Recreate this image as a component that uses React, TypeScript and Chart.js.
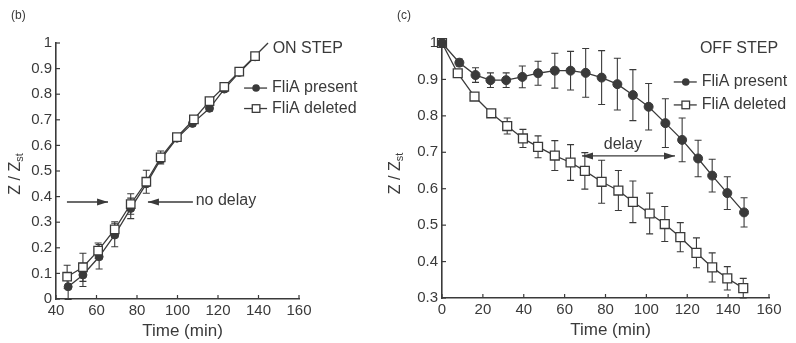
import React, { useEffect, useRef } from "react";
import { Chart, registerables } from "chart.js";

Chart.register(...registerables);

// ---------- Panel (b): ON STEP ----------
const onXTicks = [40, 60, 80, 100, 120, 140, 160];
const onYTicks = [0, 0.1, 0.2, 0.3, 0.4, 0.5, 0.6, 0.7, 0.8, 0.9, 1];

const onDeletedTime = [45.5, 53.3, 60.8, 69, 76.9, 84.6, 91.7, 99.7, 108.1, 115.8, 123.1, 130.5, 138.3];
const onDeletedZ = [0.087, 0.124, 0.189, 0.272, 0.371, 0.458, 0.553, 0.632, 0.702, 0.773, 0.829, 0.888, 0.949];
const onDeletedErr = [0.045, 0.055, 0.03, 0.03, 0.04, 0.045, 0.025, 0.01, 0.01, 0.01, 0.01, 0.01, 0.01];

const onPresentTime = [46, 53.3, 61.3, 69, 76.9, 84.6, 91.7, 99.7, 107.4, 115.8, 123.1, 130.5, 138.3];
const onPresentZ = [0.048, 0.094, 0.165, 0.25, 0.354, 0.45, 0.545, 0.628, 0.686, 0.745, 0.82, 0.885, 0.946];
const onPresentErr = [0.05, 0.045, 0.048, 0.046, 0.04, 0.01, 0.01, 0.01, 0.01, 0.01, 0.01, 0.01, 0.01];

const onLeadTime = [138.3, 144.7];
const onLeadZ = [0.949, 1.0];

// ---------- Panel (c): OFF STEP ----------
const offXTicks = [0, 20, 40, 60, 80, 100, 120, 140, 160];
const offYTicks = [0.3, 0.4, 0.5, 0.6, 0.7, 0.8, 0.9, 1];

const offPresentTime = [0, 8.5, 16.4, 23.7, 31.4, 39.3, 47, 55.2, 62.9, 70.3, 78.1, 85.8, 93.4, 101.1, 109.3, 117.5, 125.3, 132.2, 139.6, 147.8];
const offPresentZ = [1.0, 0.946, 0.912, 0.898, 0.898, 0.907, 0.917, 0.924, 0.924, 0.918, 0.905, 0.887, 0.857, 0.825, 0.78, 0.734, 0.683, 0.636, 0.588, 0.535];
const offPresentErr = [0, 0.01, 0.02, 0.02, 0.02, 0.03, 0.033, 0.048, 0.053, 0.067, 0.074, 0.071, 0.07, 0.064, 0.067, 0.06, 0.05, 0.045, 0.045, 0.04];

const offDeletedTime = [0, 7.7, 15.9, 24.1, 31.9, 39.6, 47, 55.2, 62.9, 69.9, 78.1, 86.3, 93.4, 101.6, 109, 116.6, 124.5, 132.2, 139.6, 147.4];
const offDeletedZ = [1.0, 0.917, 0.853, 0.807, 0.772, 0.738, 0.715, 0.691, 0.672, 0.649, 0.619, 0.595, 0.564, 0.532, 0.503, 0.467, 0.424, 0.384, 0.354, 0.327];
const offDeletedErr = [0, 0, 0, 0.01, 0.022, 0.025, 0.03, 0.041, 0.049, 0.05, 0.059, 0.055, 0.057, 0.056, 0.048, 0.04, 0.041, 0.04, 0.032, 0.027];

// ---------- styling ----------
const FONT = "'Liberation Sans', Arial, Helvetica, sans-serif";
const INK = "#3a3a3a";

type Arrow = { x1: number; x2: number; y: number; both: boolean };
type Label = { text: string; x: number; y: number; align: CanvasTextAlign; size: number };
type LegendRow = { text: string; marker: "circle" | "rect"; x: number; y: number };

type Panel = {
  tag: string;
  xMin: number;
  xMax: number;
  yMin: number;
  yMax: number;
  xTicks: number[];
  yTicks: number[];
  datasets: any[];
  labels: Label[];
  arrows: Arrow[];
  legend: LegendRow[];
  canvasWidth: number;
  yAxisWidth: number;
  xAxisHeight: number;
  padRight: number;
};

const pts = (t: number[], z: number[]) => t.map((x, i) => ({ x, y: z[i] }));

const squareSeries = (label: string, t: number[], z: number[], err: number[], r: number) => ({
  label,
  data: pts(t, z),
  errors: err,
  borderColor: INK,
  borderWidth: 1.3,
  pointStyle: "rect",
  pointRadius: r,
  pointBackgroundColor: "#ffffff",
  pointBorderColor: INK,
  pointBorderWidth: 1.3,
  tension: 0,
  clip: false,
});

const circleSeries = (label: string, t: number[], z: number[], err: number[], r: number) => ({
  label,
  data: pts(t, z),
  errors: err,
  borderColor: INK,
  borderWidth: 1.3,
  pointStyle: "circle",
  pointRadius: r,
  pointBackgroundColor: INK,
  pointBorderColor: INK,
  pointBorderWidth: 1,
  tension: 0,
  clip: false,
});

const panelB: Panel = {
  tag: "(b)",
  xMin: 40,
  xMax: 160,
  yMin: 0,
  yMax: 1,
  xTicks: onXTicks,
  yTicks: onYTicks,
  datasets: [
    squareSeries("FliA deleted", onDeletedTime, onDeletedZ, onDeletedErr, 6),
    circleSeries("FliA present", onPresentTime, onPresentZ, onPresentErr, 4),
    {
      label: "lead",
      data: pts(onLeadTime, onLeadZ),
      borderColor: INK,
      borderWidth: 1.3,
      pointRadius: 0,
      clip: false,
    },
  ],
  labels: [
    { text: "ON STEP", x: 147, y: 0.98, align: "left", size: 16 },
    { text: "no delay", x: 109, y: 0.385, align: "left", size: 16 },
  ],
  arrows: [
    { x1: 45.4, x2: 65.7, y: 0.379, both: false },
    { x1: 107.6, x2: 85.4, y: 0.379, both: false },
  ],
  legend: [
    { text: "FliA present", marker: "circle", x: 146.7, y: 0.824 },
    { text: "FliA deleted", marker: "rect", x: 146.7, y: 0.744 },
  ],
  canvasWidth: 380,
  yAxisWidth: 56,
  xAxisHeight: 44,
  padRight: 81,
};

const panelC: Panel = {
  tag: "(c)",
  xMin: 0,
  xMax: 160,
  yMin: 0.3,
  yMax: 1,
  xTicks: offXTicks,
  yTicks: offYTicks,
  datasets: [
    circleSeries("FliA present", offPresentTime, offPresentZ, offPresentErr, 4.5),
    squareSeries("FliA deleted", offDeletedTime, offDeletedZ, offDeletedErr, 6.3),
  ],
  labels: [
    { text: "OFF STEP", x: 126.2, y: 0.986, align: "left", size: 16 },
    { text: "delay", x: 88.5, y: 0.722, align: "center", size: 16 },
  ],
  arrows: [{ x1: 68.5, x2: 114, y: 0.69, both: true }],
  legend: [
    { text: "FliA present", marker: "circle", x: 127.1, y: 0.893 },
    { text: "FliA deleted", marker: "rect", x: 127.1, y: 0.83 },
  ],
  canvasWidth: 416,
  yAxisWidth: 62,
  xAxisHeight: 45,
  padRight: 27,
};

const errorBarPlugin = {
  id: "errorBars",
  beforeDatasetsDraw(chart: any) {
    const { ctx } = chart;
    const xs = chart.scales.x;
    const ys = chart.scales.y;
    ctx.save();
    ctx.strokeStyle = INK;
    ctx.lineWidth = 1.1;
    chart.data.datasets.forEach((ds: any) => {
      if (!ds.errors) return;
      ds.data.forEach((p: any, i: number) => {
        const e = ds.errors[i];
        if (!e) return;
        const x = xs.getPixelForValue(p.x);
        const y1 = ys.getPixelForValue(p.y - e);
        const y2 = ys.getPixelForValue(p.y + e);
        ctx.beginPath();
        ctx.moveTo(x, y1);
        ctx.lineTo(x, y2);
        ctx.moveTo(x - 3.5, y1);
        ctx.lineTo(x + 3.5, y1);
        ctx.moveTo(x - 3.5, y2);
        ctx.lineTo(x + 3.5, y2);
        ctx.stroke();
      });
    });
    ctx.restore();
  },
};

function drawArrowHead(ctx: CanvasRenderingContext2D, tipX: number, y: number, dir: number) {
  ctx.beginPath();
  ctx.moveTo(tipX, y);
  ctx.lineTo(tipX - dir * 11, y - 3.5);
  ctx.lineTo(tipX - dir * 11, y + 3.5);
  ctx.closePath();
  ctx.fill();
}

function makeDecor(panel: Panel) {
  return {
    id: "decor",
    afterDraw(chart: any) {
      const { ctx, chartArea } = chart;
      const xs = chart.scales.x;
      const ys = chart.scales.y;
      ctx.save();
      ctx.strokeStyle = INK;
      ctx.fillStyle = INK;
      ctx.lineWidth = 1.2;
      // inward tick marks
      panel.xTicks.forEach((v) => {
        const px = xs.getPixelForValue(v);
        ctx.beginPath();
        ctx.moveTo(px, chartArea.bottom);
        ctx.lineTo(px, chartArea.bottom - 4);
        ctx.stroke();
      });
      panel.yTicks.forEach((v) => {
        const py = ys.getPixelForValue(v);
        ctx.beginPath();
        ctx.moveTo(chartArea.left, py);
        ctx.lineTo(chartArea.left + 4, py);
        ctx.stroke();
      });
      // text labels
      ctx.textBaseline = "middle";
      panel.labels.forEach((l) => {
        ctx.font = `${l.size}px ${FONT}`;
        ctx.textAlign = l.align;
        ctx.fillText(l.text, xs.getPixelForValue(l.x), ys.getPixelForValue(l.y));
      });
      // arrows
      panel.arrows.forEach((a) => {
        const x1 = xs.getPixelForValue(a.x1);
        const x2 = xs.getPixelForValue(a.x2);
        const y = ys.getPixelForValue(a.y);
        const dir = Math.sign(x2 - x1);
        ctx.lineWidth = 1.3;
        ctx.beginPath();
        ctx.moveTo(x1, y);
        ctx.lineTo(x2, y);
        ctx.stroke();
        drawArrowHead(ctx, x2, y, dir);
        if (a.both) drawArrowHead(ctx, x1, y, -dir);
      });
      // legend
      panel.legend.forEach((row) => {
        const tx = xs.getPixelForValue(row.x);
        const ty = ys.getPixelForValue(row.y);
        ctx.lineWidth = 1.3;
        ctx.beginPath();
        ctx.moveTo(tx - 28, ty);
        ctx.lineTo(tx - 5, ty);
        ctx.stroke();
        const mx = tx - 16;
        if (row.marker === "circle") {
          ctx.beginPath();
          ctx.arc(mx, ty, 3.8, 0, Math.PI * 2);
          ctx.fill();
        } else {
          ctx.fillStyle = "#ffffff";
          ctx.fillRect(mx - 3.8, ty - 3.8, 7.6, 7.6);
          ctx.fillStyle = INK;
          ctx.strokeRect(mx - 3.8, ty - 3.8, 7.6, 7.6);
        }
        ctx.font = `16px ${FONT}`;
        ctx.textAlign = "left";
        ctx.fillText(row.text, tx, ty);
      });
      // axis titles
      ctx.font = `17px ${FONT}`;
      ctx.textAlign = "center";
      ctx.fillText("Time (min)", (chartArea.left + chartArea.right) / 2 + 5, chartArea.bottom + 32);
      ctx.save();
      ctx.translate(16, (chartArea.top + chartArea.bottom) / 2 + 3);
      ctx.rotate(-Math.PI / 2);
      ctx.font = `16px ${FONT}`;
      const main = "Z / Z";
      ctx.font = `16px ${FONT}`;
      const w1 = ctx.measureText(main).width;
      ctx.font = `11px ${FONT}`;
      const w2 = ctx.measureText("st").width;
      const start = -(w1 + w2) / 2;
      ctx.textAlign = "left";
      ctx.font = `16px ${FONT}`;
      ctx.fillText(main, start, 0);
      ctx.font = `11px ${FONT}`;
      ctx.fillText("st", start + w1, 4);
      ctx.restore();
      // panel tag
      ctx.font = `12px ${FONT}`;
      ctx.textAlign = "left";
      ctx.fillText(panel.tag, panel.tag === "(b)" ? 11 : 17, 16);
      ctx.restore();
    },
  };
}

function buildConfig(panel: Panel): any {
  const tickFont = { family: FONT, size: 15 };
  return {
    type: "line",
    data: { datasets: panel.datasets },
    options: {
      responsive: false,
      animation: false,
      devicePixelRatio: 1,
      layout: { padding: { left: 0, top: 43, right: panel.padRight, bottom: 0 } },
      plugins: { legend: { display: false }, tooltip: { enabled: false }, title: { display: false } },
      scales: {
        x: {
          type: "linear",
          min: panel.xMin,
          max: panel.xMax,
          afterBuildTicks: (s: any) => {
            s.ticks = panel.xTicks.map((v) => ({ value: v }));
          },
          afterFit: (s: any) => {
            s.height = panel.xAxisHeight;
          },
          grid: { display: false, drawTicks: false, tickLength: 0 },
          border: { display: true, color: INK, width: 1.6 },
          ticks: {
            padding: 3,
            color: INK,
            font: tickFont,
            maxRotation: 0,
            autoSkip: false,
            callback: (v: number) => String(v),
          },
        },
        y: {
          type: "linear",
          min: panel.yMin,
          max: panel.yMax,
          afterBuildTicks: (s: any) => {
            s.ticks = panel.yTicks.map((v) => ({ value: v }));
          },
          afterFit: (s: any) => {
            s.width = panel.yAxisWidth;
          },
          grid: { display: false, drawTicks: false, tickLength: 0 },
          border: { display: true, color: INK, width: 1.6 },
          ticks: {
            padding: 4,
            color: INK,
            font: tickFont,
            autoSkip: false,
            callback: (v: number) => String(v),
          },
        },
      },
    },
    plugins: [errorBarPlugin, makeDecor(panel)],
  };
}

function PanelChart({ panel, left }: { panel: Panel; left: number }) {
  const ref = useRef<HTMLCanvasElement>(null);
  useEffect(() => {
    const chart = new Chart(ref.current as HTMLCanvasElement, buildConfig(panel));
    return () => chart.destroy();
  }, [panel]);
  return (
    <canvas
      ref={ref}
      width={panel.canvasWidth}
      height={343}
      style={{ position: "absolute", left, top: 0, width: panel.canvasWidth, height: 343 }}
    />
  );
}

export default function App() {
  return (
    <div style={{ position: "fixed", left: 0, top: 0, width: 796, height: 343, background: "#ffffff" }}>
      <PanelChart panel={panelB} left={0} />
      <PanelChart panel={panelC} left={380} />
    </div>
  );
}
